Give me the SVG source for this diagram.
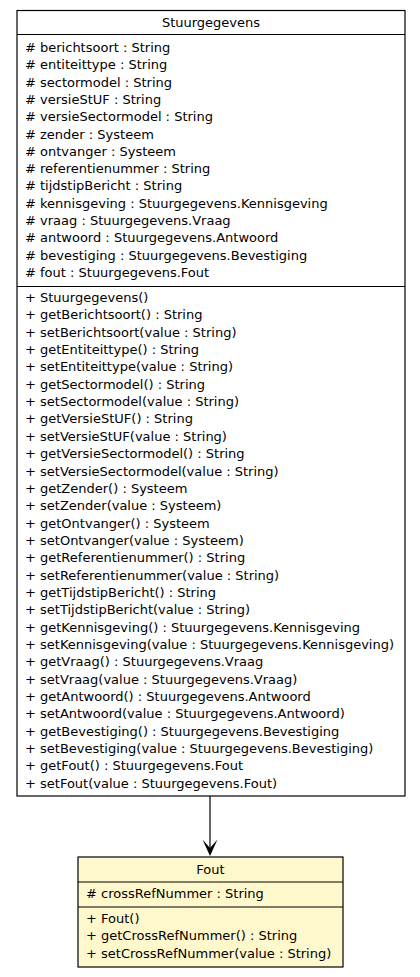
<svg xmlns="http://www.w3.org/2000/svg" width="420" height="977" viewBox="0 0 420 977">
<style>
text{font-family:"DejaVu Sans",sans-serif;font-size:13px;fill:#000}
.c{text-anchor:middle}
.box{fill:#fff;stroke:#000;stroke-width:1.2}
.fout{fill:#fff8cc;stroke:#000;stroke-width:1.2}
.sep{stroke:#000;stroke-width:1.2}
.edge{stroke:#000;stroke-width:1.2;fill:none}
</style>
<rect width="420" height="977" fill="#fff"/>
<g id="Stuurgegevens">
<rect class="box" x="17" y="10.5" width="388" height="785.5"/>
<line class="sep" x1="17" y1="34.5" x2="405" y2="34.5"/>
<line class="sep" x1="17" y1="286.5" x2="405" y2="286.5"/>
<text class="c" x="211" y="27">Stuurgegevens</text>
<text x="25" y="52">
<tspan x="25" y="52"># berichtsoort : String</tspan>
<tspan x="25" y="69.3"># entiteittype : String</tspan>
<tspan x="25" y="86.6"># sectormodel : String</tspan>
<tspan x="25" y="103.9"># versieStUF : String</tspan>
<tspan x="25" y="121.2"># versieSectormodel : String</tspan>
<tspan x="25" y="138.5"># zender : Systeem</tspan>
<tspan x="25" y="155.8"># ontvanger : Systeem</tspan>
<tspan x="25" y="173.1"># referentienummer : String</tspan>
<tspan x="25" y="190.4"># tijdstipBericht : String</tspan>
<tspan x="25" y="207.7"># kennisgeving : Stuurgegevens.Kennisgeving</tspan>
<tspan x="25" y="225"># vraag : Stuurgegevens.Vraag</tspan>
<tspan x="25" y="242.3"># antwoord : Stuurgegevens.Antwoord</tspan>
<tspan x="25" y="259.6"># bevestiging : Stuurgegevens.Bevestiging</tspan>
<tspan x="25" y="276.9"># fout : Stuurgegevens.Fout</tspan>
</text>
<text x="25" y="302">
<tspan x="25" y="302">+ Stuurgegevens()</tspan>
<tspan x="25" y="319.35">+ getBerichtsoort() : String</tspan>
<tspan x="25" y="336.7">+ setBerichtsoort(value : String)</tspan>
<tspan x="25" y="354.05">+ getEntiteittype() : String</tspan>
<tspan x="25" y="371.4">+ setEntiteittype(value : String)</tspan>
<tspan x="25" y="388.75">+ getSectormodel() : String</tspan>
<tspan x="25" y="406.1">+ setSectormodel(value : String)</tspan>
<tspan x="25" y="423.45">+ getVersieStUF() : String</tspan>
<tspan x="25" y="440.8">+ setVersieStUF(value : String)</tspan>
<tspan x="25" y="458.15">+ getVersieSectormodel() : String</tspan>
<tspan x="25" y="475.5">+ setVersieSectormodel(value : String)</tspan>
<tspan x="25" y="492.85">+ getZender() : Systeem</tspan>
<tspan x="25" y="510.2">+ setZender(value : Systeem)</tspan>
<tspan x="25" y="527.55">+ getOntvanger() : Systeem</tspan>
<tspan x="25" y="544.9">+ setOntvanger(value : Systeem)</tspan>
<tspan x="25" y="562.25">+ getReferentienummer() : String</tspan>
<tspan x="25" y="579.6">+ setReferentienummer(value : String)</tspan>
<tspan x="25" y="596.95">+ getTijdstipBericht() : String</tspan>
<tspan x="25" y="614.3">+ setTijdstipBericht(value : String)</tspan>
<tspan x="25" y="631.65">+ getKennisgeving() : Stuurgegevens.Kennisgeving</tspan>
<tspan x="25" y="649">+ setKennisgeving(value : Stuurgegevens.Kennisgeving)</tspan>
<tspan x="25" y="666.35">+ getVraag() : Stuurgegevens.Vraag</tspan>
<tspan x="25" y="683.7">+ setVraag(value : Stuurgegevens.Vraag)</tspan>
<tspan x="25" y="701.05">+ getAntwoord() : Stuurgegevens.Antwoord</tspan>
<tspan x="25" y="718.4">+ setAntwoord(value : Stuurgegevens.Antwoord)</tspan>
<tspan x="25" y="735.75">+ getBevestiging() : Stuurgegevens.Bevestiging</tspan>
<tspan x="25" y="753.1">+ setBevestiging(value : Stuurgegevens.Bevestiging)</tspan>
<tspan x="25" y="770.45">+ getFout() : Stuurgegevens.Fout</tspan>
<tspan x="25" y="787.8">+ setFout(value : Stuurgegevens.Fout)</tspan>
</text>
</g>
<g id="Fout">
<rect class="fout" x="78" y="857" width="265" height="110"/>
<line class="sep" x1="78" y1="882" x2="343" y2="882"/>
<line class="sep" x1="78" y1="907" x2="343" y2="907"/>
<text class="c" x="210.5" y="874">Fout</text>
<text x="86" y="898"># crossRefNummer : String</text>
<text x="86" y="922.5">+ Fout()</text>
<text x="86" y="940">+ getCrossRefNummer() : String</text>
<text x="86" y="957.5">+ setCrossRefNummer(value : String)</text>
</g>
<g id="connectors">
<line class="edge" x1="210" y1="796" x2="210" y2="850"/>
<polygon points="210,856 202.5,839.5 210,848 217.5,839.5" fill="#000"/>
</g>
</svg>
